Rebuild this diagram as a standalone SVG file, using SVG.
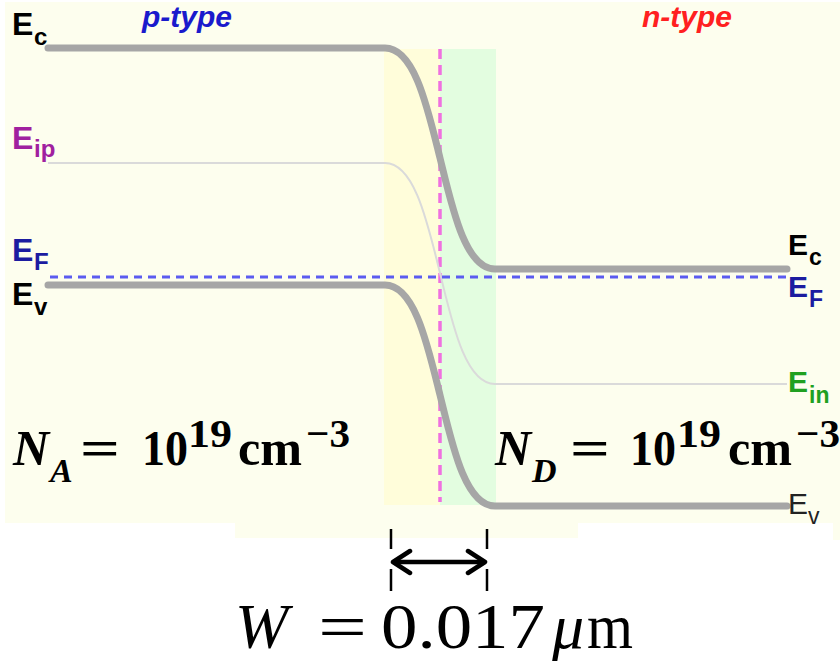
<svg xmlns="http://www.w3.org/2000/svg" width="840" height="661" viewBox="0 0 840 661">
<style>
.band{fill:none;stroke:#a6a6a6;stroke-width:7;stroke-linecap:round;stroke-linejoin:round}
.ei{fill:none;stroke:#dadada;stroke-width:2}
.ef{fill:none;stroke:#5b5bf0;stroke-width:3;stroke-dasharray:8 6}
.lab{font-family:"Liberation Sans",Arial,sans-serif;font-weight:bold}
.math{font-family:"Liberation Serif","Times New Roman",serif;fill:#000}
.tick{stroke:#000;stroke-width:2.5}
</style>
<defs>
<marker id="chev" viewBox="0 0 24 30" refX="21" refY="15" markerWidth="24" markerHeight="30" markerUnits="userSpaceOnUse" orient="auto-start-reverse">
<path d="M4,4 L21,15 L4,26" fill="none" stroke="#000" stroke-width="4.5" stroke-linecap="round" stroke-linejoin="round"/>
</marker>
</defs>
<g id="background">
<rect x="5" y="2" width="835" height="521" fill="#fdfeee"/>
<rect x="235" y="523" width="343" height="15" fill="#fdfeee"/>
<rect x="833" y="523" width="7" height="17" fill="#fdfeee"/>
</g>
<g id="depletion">
<rect x="384" y="49" width="56" height="456" fill="#fffdda"/>
<rect x="440" y="49" width="56" height="456" fill="#e3fde0"/>
</g>
<g id="connectors">
<line x1="440" y1="49" x2="440" y2="502" stroke="#f070e0" stroke-width="3.5" stroke-dasharray="10 6"/>
<path id="Ei" class="ei" d="M48,163 H385 C415,163 428,225 440,273 C452,322 465,384 495,384 H787"/>
<path id="EF" class="ef" d="M50,277 H787"/>
<path id="Ec" class="band" d="M48,48 H385 C415,48 428,110 440,158 C452,207 465,269 495,269 H787"/>
<path id="Ev" class="band" d="M48,285 H385 C415,285 428,347 440,395 C452,444 465,506 495,506 H787"/>
</g>
<g id="width-arrow">
<line class="tick" x1="391" y1="529" x2="391" y2="549"/>
<line class="tick" x1="391" y1="569" x2="391" y2="591"/>
<line class="tick" x1="487" y1="529" x2="487" y2="549"/>
<line class="tick" x1="487" y1="569" x2="487" y2="591"/>
<line x1="393" y1="562" x2="485" y2="562" stroke="#000" stroke-width="4.5" marker-start="url(#chev)" marker-end="url(#chev)"/>
</g>
<g id="labels-left" class="lab">
<text x="12" y="35" font-size="32" fill="#000">E<tspan x="34" y="45" font-size="24">c</tspan></text>
<text x="12" y="149" font-size="32" fill="#a0209f">E<tspan x="34" y="157" font-size="24">ip</tspan></text>
<text x="12" y="261" font-size="32" fill="#1c1ca0">E<tspan x="34" y="270" font-size="24">F</tspan></text>
<text x="12" y="305" font-size="32" fill="#000">E<tspan x="34" y="315" font-size="24">v</tspan></text>
</g>
<g id="labels-right" class="lab">
<text x="788" y="255" font-size="30" fill="#000">E<tspan x="809" y="265" font-size="23">c</tspan></text>
<text x="788" y="297" font-size="30" fill="#1c1ca0">E<tspan x="809" y="307" font-size="23">F</tspan></text>
<text x="788" y="392" font-size="30" fill="#20a020">E<tspan x="809" y="403" font-size="23">in</tspan></text>
<text x="788" y="514" font-size="30" fill="#222" font-weight="normal">E<tspan x="808" y="524" font-size="23">v</tspan></text>
</g>
<g id="type-labels" class="lab" font-style="italic" font-size="30">
<text x="142" y="27" fill="#1a1acc">p-type</text>
<text x="642" y="27" fill="#ff2020">n-type</text>
</g>
<g id="NA" class="math" font-weight="bold">
<text x="13" y="465" font-size="50" font-style="italic">N</text>
<text x="50" y="482" font-size="34" font-style="italic">A</text>
<text x="80" y="465" font-size="50" textLength="40" lengthAdjust="spacingAndGlyphs">=</text>
<text x="142" y="465" font-size="50" textLength="46" lengthAdjust="spacingAndGlyphs">10</text>
<text x="188" y="447" font-size="40" textLength="44" lengthAdjust="spacingAndGlyphs">19</text>
<text x="238" y="465" font-size="50" textLength="64" lengthAdjust="spacingAndGlyphs">cm</text>
<text x="306" y="447" font-size="40" textLength="44" lengthAdjust="spacingAndGlyphs">−3</text>
</g>
<g id="ND" class="math" font-weight="bold">
<text x="495" y="465" font-size="50" font-style="italic">N</text>
<text x="532" y="482" font-size="34" font-style="italic">D</text>
<text x="570" y="465" font-size="50" textLength="40" lengthAdjust="spacingAndGlyphs">=</text>
<text x="630" y="465" font-size="50" textLength="46" lengthAdjust="spacingAndGlyphs">10</text>
<text x="677" y="447" font-size="40" textLength="44" lengthAdjust="spacingAndGlyphs">19</text>
<text x="728" y="465" font-size="50" textLength="64" lengthAdjust="spacingAndGlyphs">cm</text>
<text x="796" y="447" font-size="40" textLength="44" lengthAdjust="spacingAndGlyphs">−3</text>
</g>
<g id="W" class="math" font-size="64">
<text x="235" y="648" font-style="italic">W</text>
<text x="318" y="648" textLength="49" lengthAdjust="spacingAndGlyphs">=</text>
<text x="381" y="648" textLength="164" lengthAdjust="spacingAndGlyphs">0.017</text>
<text x="552" y="648" font-style="italic">μ</text>
<text x="587" y="648" textLength="46" lengthAdjust="spacingAndGlyphs">m</text>
</g>
</svg>
